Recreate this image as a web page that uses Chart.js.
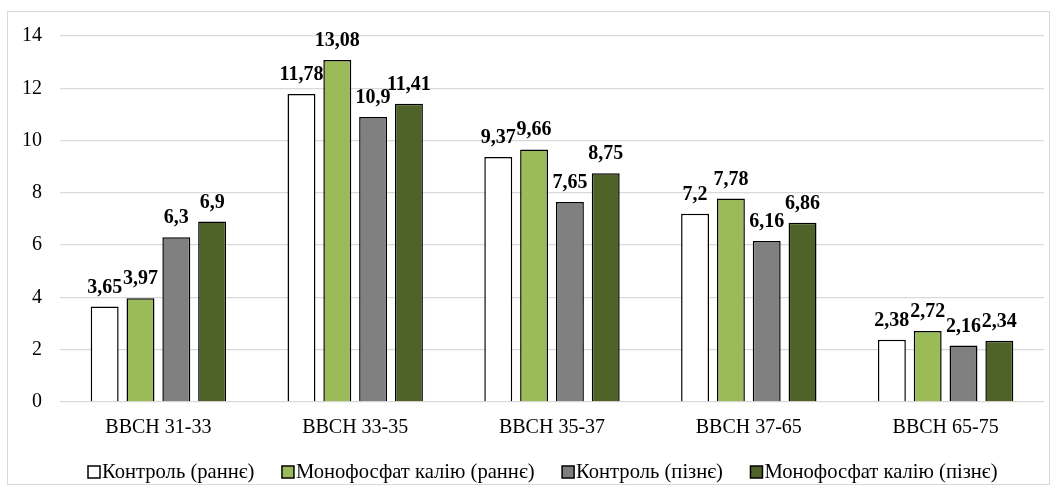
<!DOCTYPE html>
<html>
<head>
<meta charset="utf-8">
<script src="https://cdn.jsdelivr.net/npm/chart.js@4"></script>
<style>
  body { margin: 0; background: #fff; }
  .frame {
    position: absolute; left: 7px; top: 11px;
    width: 1043px; height: 474px;
    border: 1px solid #d9d9d9; box-sizing: border-box;
  }
  canvas { display: block; }
</style>
</head>
<body>
<div class="frame"><canvas id="chart" width="1041" height="472"></canvas></div>
<script>
const categories = ['BBCH 31-33', 'BBCH 33-35', 'BBCH 35-37', 'BBCH 37-65', 'BBCH 65-75'];
const controlEarly = [3.65, 11.78, 9.37, 7.2, 2.38];
const kmpEarly = [3.97, 13.08, 9.66, 7.78, 2.72];
const controlLate = [6.3, 10.9, 7.65, 6.16, 2.16];
const kmpLate = [6.9, 11.41, 8.75, 6.86, 2.34];
const yTicks = [0, 2, 4, 6, 8, 10, 12, 14];

const serif = '"Liberation Serif", "Times New Roman", serif';

// labels over bars, like excel "outside end"
const valueLabels = {
  id: 'valueLabels',
  afterDatasetsDraw(chart) {
    const ctx = chart.ctx;
    ctx.save();
    ctx.font = 'bold 20px ' + serif;
    ctx.fillStyle = '#000';
    ctx.textAlign = 'center';
    ctx.textBaseline = 'alphabetic';
    chart.data.datasets.forEach((ds, i) => {
      chart.getDatasetMeta(i).data.forEach((bar, j) => {
        ctx.fillText(String(ds.data[j]).replace('.', ','), bar.x, bar.y - 14);
      });
    });
    ctx.restore();
  }
};

// excel-like legend: tight box/text gap
const bottomLegend = {
  id: 'bottomLegend',
  afterDraw(chart) {
    const ctx = chart.ctx;
    ctx.save();
    ctx.font = '20.6px ' + serif;
    ctx.textBaseline = 'alphabetic';
    ctx.textAlign = 'left';
    let x = 80;
    const base = 466;
    chart.data.datasets.forEach(ds => {
      ctx.fillStyle = ds.backgroundColor;
      ctx.fillRect(x, base - 12, 12, 12);
      ctx.strokeStyle = '#000';
      ctx.lineWidth = 1.5;
      ctx.strokeRect(x, base - 12, 12, 12);
      ctx.fillStyle = '#000';
      ctx.fillText(ds.label, x + 14, base);
      x += 14 + ctx.measureText(ds.label).width + 27.5;
    });
    ctx.restore();
  }
};

function series(label, data, color) {
  return {
    label, data,
    backgroundColor: color,
    borderColor: '#000',
    borderWidth: 1.5,
    categoryPercentage: 0.728,
    barPercentage: 0.78
  };
}

Chart.defaults.font.family = serif;
Chart.defaults.color = '#000';

new Chart(document.getElementById('chart'), {
  type: 'bar',
  data: {
    labels: categories,
    datasets: [
      series('Контроль (раннє)', controlEarly, '#ffffff'),
      series('Монофосфат калію (раннє)', kmpEarly, '#9bbb59'),
      series('Контроль (пізнє)', controlLate, '#808080'),
      series('Монофосфат калію (пізнє)', kmpLate, '#4f6228')
    ]
  },
  options: {
    responsive: false,
    animation: false,
    layout: { padding: { top: 24, right: 5, left: 0, bottom: 0 } },
    plugins: {
      tooltip: { enabled: false },
      legend: { display: false }
    },
    scales: {
      x: {
        grid: { display: false },
        border: { display: false },
        ticks: { font: { size: 20, family: serif }, padding: 6, maxRotation: 0 },
        afterFit(scale) { scale.height = 82; }
      },
      y: {
        min: 0, max: 14,
        afterBuildTicks(scale) { scale.ticks = yTicks.map(v => ({ value: v })); },
        grid: { color: '#d9d9d9', lineWidth: 1.3, drawTicks: false },
        border: { display: false },
        ticks: { font: { size: 20, family: serif }, padding: 18 },
        afterFit(scale) {
          scale.width = 52;
          scale.paddingTop = 0;
          scale.paddingBottom = 0;
        }
      }
    }
  },
  plugins: [valueLabels, bottomLegend]
});
</script>
</body>
</html>
